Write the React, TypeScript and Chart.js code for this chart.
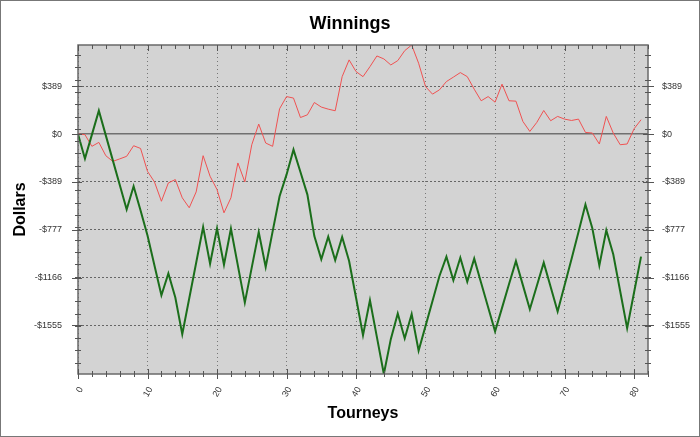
import { useEffect, useRef } from "react";
import { Chart, registerables } from "chart.js";

Chart.register(...registerables);

// Red series (thin line)
const seriesRed: number[] = [
  0, -5, -100, -68, -176, -222, -202, -181, -95, -117, -303, -389, -546, -397, -370, -518, -599, -470, -176, -343,
  -451, -640, -518, -235, -389, -87, 81,
  -73, -100, 205, 304, 292, 134, 156, 256, 219, 202, 189, 466, 602, 507, 466, 547, 634, 610, 561, 596, 677, 723,
  575, 385, 324, 359,
  426, 462, 499, 466, 364, 270, 304, 259, 405, 270, 267, 102, 21, 94, 191, 108, 143, 121, 110, 121, 13, 8, -81, 143,
  8, -87, -81, 43, 116,
];

// Green series (thick line)
const seriesGreen: number[] = [
  0, -200, -5, 189, -11, -212, -412, -613, -424, -621, -824, -1067, -1310, -1132, -1328, -1626, -1336, -1046, -756,
  -1053, -767, -1061, -769, -1069, -1369, -1083, -797,
  -1080, -791, -505, -330, -127, -309, -492, -829, -1018, -834, -1026, -837, -1032, -1330, -1634, -1350, -1650, -1949,
  -1666, -1458, -1660, -1463, -1760, -1558, -1356, -1153,
  -996, -1188, -1004, -1199, -1012, -1210, -1407, -1603, -1412, -1220, -1032, -1227, -1423, -1234, -1045, -1243, -1441,
  -1229, -1015, -795, -573, -767, -1067, -781, -977, -1277, -1577, -1285, -996,
];

const tourneys: number[] = seriesRed.map((_, i) => i);

const xMajorTicks = [0, 10, 20, 30, 40, 50, 60, 70, 80];
const xMax = 82;
const yTickValues = [389, 0, -389, -777, -1166, -1555];
const yTickLabels = ["$389", "$0", "-$389", "-$777", "-$1166", "-$1555"];
const yMinorTicks = [
  642, 542, 442, 342, 242, 142, 42, -58, -158, -258, -358, -458, -558, -658, -758, -858, -958, -1058, -1158, -1258,
  -1358, -1458, -1558, -1658, -1758, -1858,
];

const FONT = "'Liberation Sans', Arial, sans-serif";

const framePlugin = {
  id: "frameDecor",
  beforeDraw(chart: any) {
    const { ctx, chartArea: a } = chart;
    ctx.save();
    ctx.fillStyle = "#ffffff";
    ctx.fillRect(0, 0, chart.width, chart.height);
    ctx.fillStyle = "#d3d3d3";
    ctx.fillRect(a.left, a.top, a.right - a.left, a.bottom - a.top);
    ctx.restore();
  },
  afterDraw(chart: any) {
    const { ctx, chartArea: a, scales } = chart;
    const xs = scales.x;
    const ys = scales.y;
    ctx.save();
    // plot frame
    ctx.strokeStyle = "#6a6a6a";
    ctx.lineWidth = 1.5;
    ctx.strokeRect(a.left, a.top, a.right - a.left, a.bottom - a.top);

    ctx.strokeStyle = "#555";
    ctx.lineWidth = 1;
    const line = (x1: number, y1: number, x2: number, y2: number) => {
      ctx.beginPath();
      ctx.moveTo(x1, y1);
      ctx.lineTo(x2, y2);
      ctx.stroke();
    };
    // x ticks (bottom and top), minor every 2
    for (let v = 0; v <= xMax; v += 2) {
      const px = Math.round(xs.getPixelForValue(v)) + 0.5;
      const major = xMajorTicks.includes(v);
      if (major) {
        line(px, a.bottom - 5, px, a.bottom + 5);
        line(px, a.top, px, a.top + 6);
      } else {
        line(px, a.bottom - 3, px, a.bottom + 3);
        line(px, a.top, px, a.top + 4);
      }
    }
    // y ticks (left and right)
    for (const v of yMinorTicks) {
      const py = Math.round(ys.getPixelForValue(v)) + 0.5;
      line(a.left - 3, py, a.left + 3, py);
      line(a.right - 3, py, a.right + 3, py);
    }
    for (const v of yTickValues) {
      const py = Math.round(ys.getPixelForValue(v)) + 0.5;
      line(a.left - 6, py, a.left + 4, py);
      line(a.right - 5, py, a.right + 6, py);
    }
    // outer border
    ctx.strokeStyle = "#777";
    ctx.lineWidth = 1;
    ctx.strokeRect(0.5, 0.5, chart.width - 1, chart.height - 1);
    ctx.restore();
  },
};

export default function App() {
  const ref = useRef<HTMLCanvasElement>(null);

  useEffect(() => {
    document.body.style.margin = "0";
    const all = [...seriesRed, ...seriesGreen];
    const yMin = Math.min(...all);
    const yMax = Math.max(...all);

    const yTicksCommon = {
      color: "#333",
      font: { family: FONT, size: 9 },
      autoSkip: false,
      callback: (v: any) => {
        const idx = yTickValues.indexOf(Number(v));
        return idx >= 0 ? yTickLabels[idx] : "";
      },
    };

    const chart = new Chart(ref.current!, {
      type: "line",
      data: {
        datasets: [
          {
            label: "Green",
            data: tourneys.map((t, i) => ({ x: t, y: seriesGreen[i] })),
            borderColor: "#1b6e1b",
            borderWidth: 2,
            pointRadius: 0,
            tension: 0,
            fill: false,
            yAxisID: "y",
          },
          {
            label: "Red",
            data: tourneys.map((t, i) => ({ x: t, y: seriesRed[i] })),
            borderColor: "#f05252",
            borderWidth: 1,
            pointRadius: 0,
            tension: 0,
            fill: false,
            yAxisID: "y",
          },
        ],
      },
      options: {
        animation: false,
        responsive: false,
        devicePixelRatio: 1,
        layout: { padding: 0 },
        plugins: {
          legend: { display: false },
          tooltip: { enabled: false },
          title: {
            display: true,
            text: "Winnings",
            color: "#000",
            font: { family: FONT, size: 18, weight: "bold" },
            padding: { top: 12.8, bottom: 10.6 },
          },
        },
        scales: {
          x: {
            type: "linear",
            position: "bottom",
            min: 0,
            max: xMax,
            afterBuildTicks: (s: any) => {
              s.ticks = xMajorTicks.map((v) => ({ value: v }));
            },
            afterFit: (s: any) => {
              s.height = 63;
            },
            ticks: {
              color: "#333",
              font: { family: FONT, size: 9 },
              minRotation: 60,
              maxRotation: 60,
              autoSkip: false,
              padding: 11,
              labelOffset: 3,
            },
            grid: {
              color: "#777",
              lineWidth: 1,
              drawTicks: false,
            },
            border: { display: false, dash: [1, 3] },
            title: {
              display: true,
              text: "Tourneys",
              color: "#000",
              font: { family: FONT, size: 16, weight: "bold" },
              padding: { top: 0, bottom: 14 },
            },
          },
          y: {
            type: "linear",
            position: "left",
            min: yMin,
            max: yMax,
            afterBuildTicks: (s: any) => {
              s.ticks = yTickValues.map((v) => ({ value: v }));
            },
            afterFit: (s: any) => {
              s.width = 78;
            },
            ticks: { ...yTicksCommon, padding: 16 },
            grid: {
              color: (c: any) => (c.tick && c.tick.value === 0 ? "#707070" : "#666"),
              lineWidth: (c: any) => (c.tick && c.tick.value === 0 ? 1.5 : 1),
              drawTicks: false,
            },
            border: {
              display: false,
              dash: (c: any) => (c.tick && c.tick.value === 0 ? [] : [2, 2]),
            },
            title: {
              display: true,
              text: "Dollars",
              color: "#000",
              font: { family: FONT, size: 16, weight: "bold" },
              padding: { top: 11, bottom: 0 },
            },
          },
          y2: {
            type: "linear",
            position: "right",
            min: yMin,
            max: yMax,
            afterBuildTicks: (s: any) => {
              s.ticks = yTickValues.map((v) => ({ value: v }));
            },
            afterFit: (s: any) => {
              s.width = 52;
            },
            ticks: { ...yTicksCommon, padding: 14 },
            grid: { drawOnChartArea: false, drawTicks: false },
            border: { display: false },
          },
        },
      },
      plugins: [framePlugin],
    } as any);
    return () => chart.destroy();
  }, []);

  return (
    <div style={{ width: 700, height: 437 }}>
      <canvas ref={ref} width={700} height={437} style={{ display: "block", width: "700px", height: "437px" }} />
    </div>
  );
}
